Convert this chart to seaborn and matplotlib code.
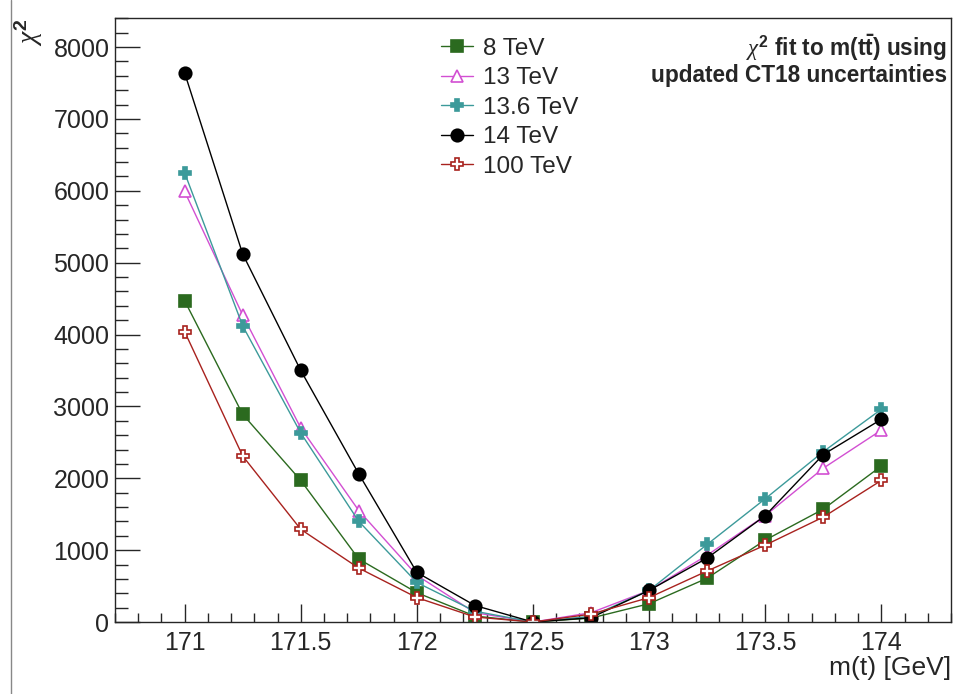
import numpy as np
import pandas as pd
import seaborn as sns
import matplotlib.pyplot as plt
from matplotlib.ticker import MultipleLocator
from matplotlib.lines import Line2D

mass = [171, 171.25, 171.5, 171.75, 172, 172.25, 172.5, 172.75, 173, 173.25, 173.5, 173.75, 174]
chi2_8 = [4470, 2890, 1970, 876, 408, 83, 0, 55, 255, 610, 1140, 1570, 2170]
chi2_13 = [5990, 4270, 2700, 1550, 650, 130, 0, 130, 440, 930, 1480, 2140, 2670]
chi2_136 = [6250, 4120, 2630, 1400, 550, 150, 0, 80, 440, 1080, 1715, 2370, 2960]
chi2_14 = [7640, 5120, 3500, 2060, 690, 230, 0, 60, 440, 890, 1480, 2330, 2820]
chi2_100 = [4040, 2310, 1290, 750, 340, 70, 0, 110, 340, 710, 1070, 1460, 1970]
labels = ["8 TeV", "13 TeV", "13.6 TeV", "14 TeV", "100 TeV"]

sns.set_style("ticks")
plt.rcParams['font.family'] = ['Liberation Sans', 'DejaVu Sans']
plt.rcParams['mathtext.fontset'] = 'custom'
plt.rcParams['mathtext.rm'] = 'Liberation Sans:bold'
plt.rcParams['mathtext.it'] = 'Liberation Serif:italic'
plt.rcParams['mathtext.bf'] = 'Liberation Sans:bold'

styles = [
    # color, marker, facecolor, size
    ("#2b6a1f", "s", "#2b6a1f", 8),
    ("#d24fd2", "^", "white", 9),
    ("#3c9a9a", "P", "#3c9a9a", 9),
    ("#000000", "o", "#000000", 9),
    ("#a8221e", "P", "white", 9),
]
series = [chi2_8, chi2_13, chi2_136, chi2_14, chi2_100]

fig = plt.figure(figsize=(9.58, 6.94), dpi=100)
ax = fig.add_axes([0.120, 0.1037, 0.8727, 0.870])

for vals, lab, (c, m, fc, ms) in zip(series, labels, styles):
    df = pd.DataFrame({"mass": mass, "chi2": vals})
    sns.lineplot(data=df, x="mass", y="chi2", ax=ax, color=c, marker=m,
                 markerfacecolor=fc, markeredgecolor=c, markersize=ms,
                 markeredgewidth=1.2, linewidth=1, label=lab)

ax.set_xlim(170.7, 174.3)
ax.set_ylim(0, 8400)
ax.xaxis.set_major_locator(MultipleLocator(0.5))
ax.xaxis.set_minor_locator(MultipleLocator(0.1))
ax.yaxis.set_major_locator(MultipleLocator(1000))
ax.yaxis.set_minor_locator(MultipleLocator(200))
ax.xaxis.set_major_formatter(plt.FuncFormatter(lambda v, p: f"{v:g}"))
ax.tick_params(axis='x', which='major', direction='in', length=13, width=1, labelsize=18, pad=6.5)
ax.tick_params(axis='x', which='minor', direction='in', length=6.5, width=1)
ax.tick_params(axis='y', which='major', direction='in', length=18, width=1, labelsize=18, pad=4)
ax.tick_params(axis='y', which='minor', direction='in', length=9, width=1)
for s in ax.spines.values():
    s.set_linewidth(1)
    s.set_visible(True)

ax.set_xlabel("m(t) [GeV]", loc='right', fontsize=19, labelpad=1)
ax.set_ylabel(r"$\chi^{2}$", loc='top', fontsize=20, labelpad=6)

leg = ax.legend(loc='upper left', bbox_to_anchor=(0.37, 0.996), frameon=False,
                fontsize=17.5, handlelength=1.3, handletextpad=0.4, labelspacing=0.31,
                borderaxespad=0.3)

ax.text(0.995, 0.975, r"$\chi^{2}$ fit to m(t$\bar{\mathrm{t}}$) using", transform=ax.transAxes,
        ha='right', va='top', fontsize=16.3, fontweight='bold')
ax.text(0.995, 0.924, "updated CT18 uncertainties", transform=ax.transAxes,
        ha='right', va='top', fontsize=16.3, fontweight='bold')

fig.add_artist(Line2D([11 / 958, 11 / 958], [0, 1], transform=fig.transFigure,
                      color="#888888", linewidth=1))

fig.savefig("out.png", dpi=100)
